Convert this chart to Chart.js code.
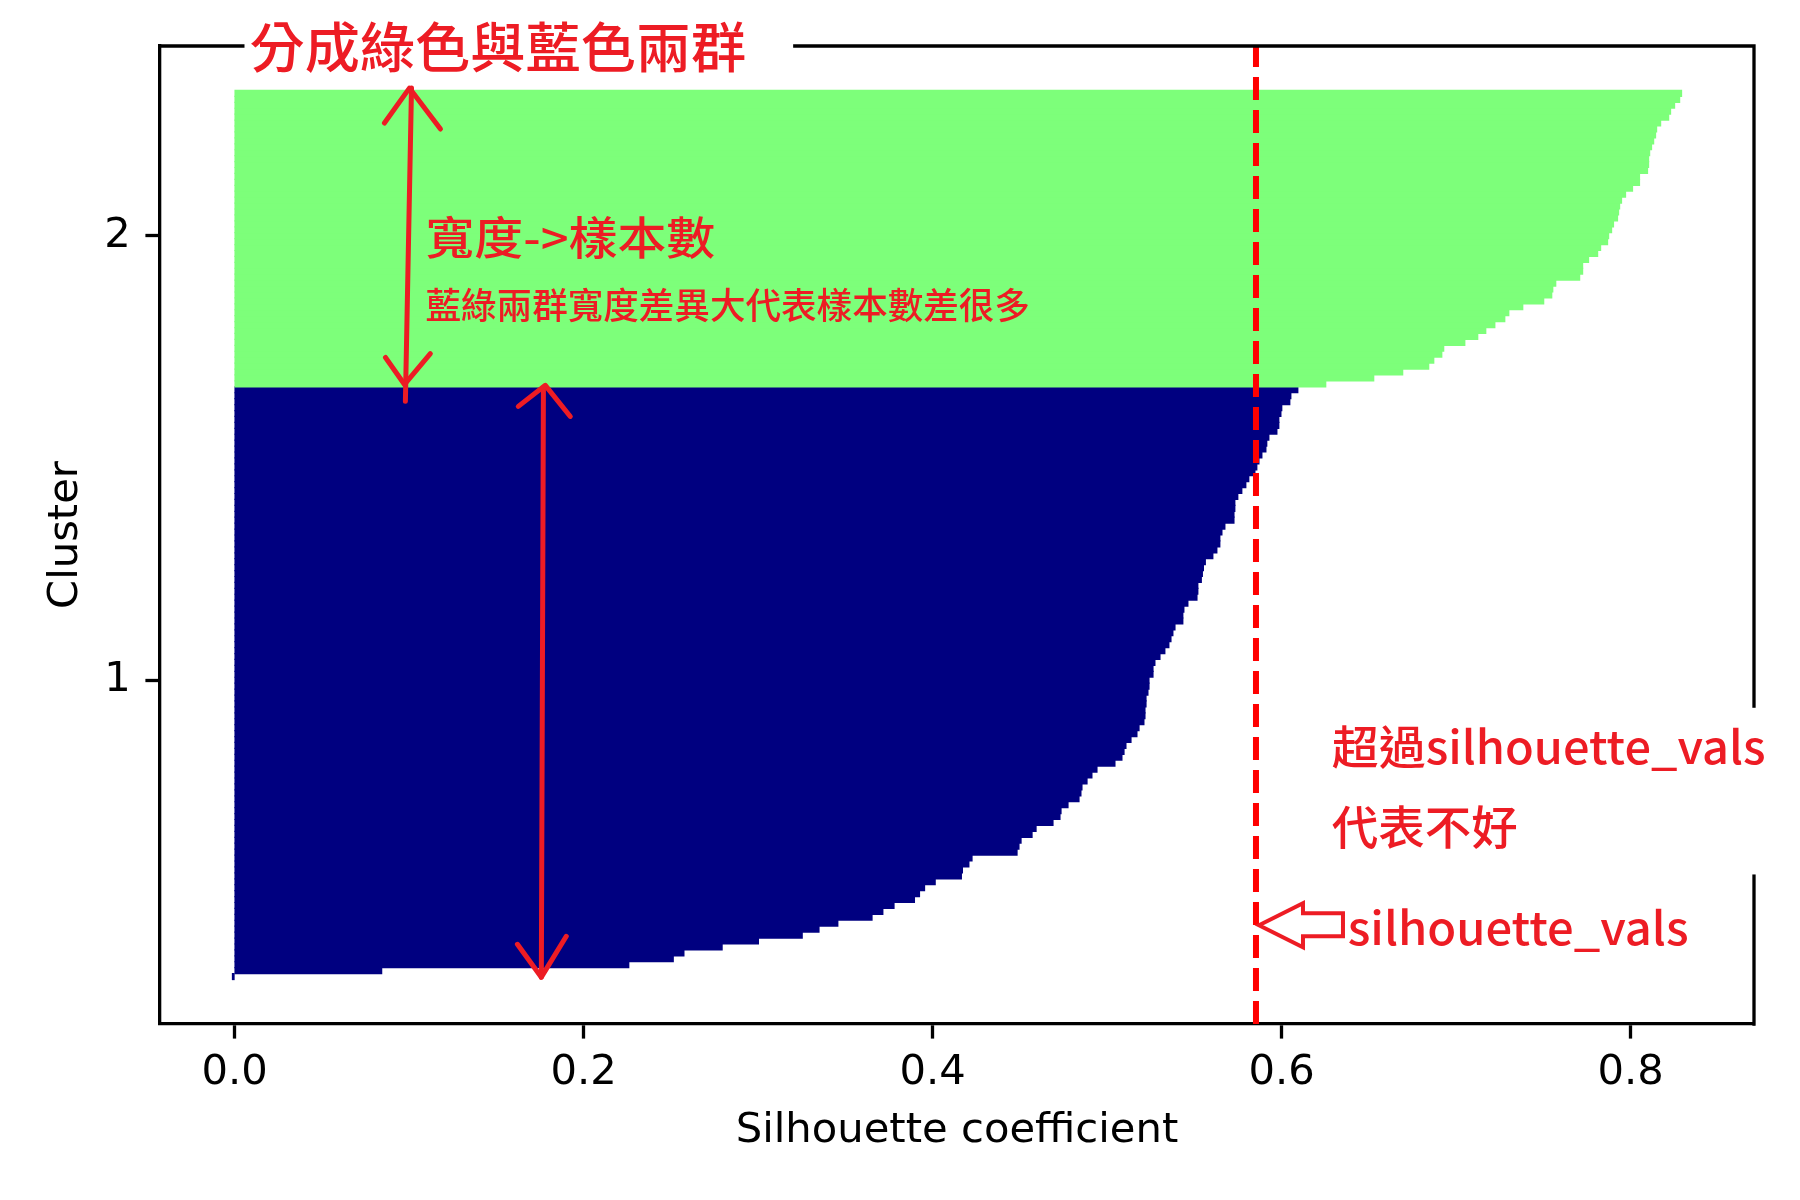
<!DOCTYPE html>
<html><head><meta charset="utf-8">
<script src="https://cdn.jsdelivr.net/npm/chart.js@4.4.0/dist/chart.umd.min.js"></script>
<style>html,body{margin:0;padding:0;background:#fff}canvas{display:block}</style>
</head><body>
<canvas id="c" width="1800" height="1200"></canvas>
<script>
// ---------------- data ----------------
const clusterLabels = ['1', '2'];
const cluster1Values = [
  -0.0012, 0.0843, 0.2259, 0.2514, 0.2575, 0.2794, 0.3002, 0.3253, 0.3349, 0.3457,
  0.3653, 0.3715, 0.3779, 0.3896, 0.3925, 0.3954, 0.4015, 0.4165, 0.4171, 0.4208,
  0.4226, 0.4484, 0.4495, 0.4507, 0.4570, 0.4593, 0.4690, 0.4730, 0.4736, 0.4776,
  0.4839, 0.4850, 0.4856, 0.4885, 0.4913, 0.4942, 0.5045, 0.5085, 0.5097, 0.5108,
  0.5137, 0.5171, 0.5183, 0.5211, 0.5217, 0.5217, 0.5223, 0.5223, 0.5234, 0.5240,
  0.5240, 0.5263, 0.5263, 0.5274, 0.5303, 0.5331, 0.5354, 0.5366, 0.5377, 0.5389,
  0.5434, 0.5434, 0.5440, 0.5463, 0.5515, 0.5520, 0.5520, 0.5540, 0.5546, 0.5552,
  0.5563, 0.5606, 0.5629, 0.5646, 0.5646, 0.5658, 0.5675, 0.5727, 0.5727, 0.5732,
  0.5732, 0.5749, 0.5772, 0.5795, 0.5812, 0.5847, 0.5858, 0.5870, 0.5887, 0.5910,
  0.5915, 0.5927, 0.5973, 0.5984, 0.5984, 0.5996, 0.6001, 0.6047, 0.6053, 0.6093
];
const cluster2Values = [
  0.6253, 0.6528, 0.6694, 0.6843, 0.6872, 0.6918, 0.6929, 0.7050, 0.7124, 0.7170,
  0.7222, 0.7279, 0.7302, 0.7382, 0.7502, 0.7548, 0.7554, 0.7571, 0.7708, 0.7725,
  0.7725, 0.7759, 0.7811, 0.7828, 0.7868, 0.7874, 0.7891, 0.7902, 0.7925, 0.7931,
  0.7937, 0.7948, 0.7971, 0.8011, 0.8051, 0.8051, 0.8097, 0.8103, 0.8103, 0.8109,
  0.8120, 0.8132, 0.8143, 0.8149, 0.8172, 0.8218, 0.8229, 0.8252, 0.8281, 0.8292
];
const xTickValues = [0.0, 0.2, 0.4, 0.6, 0.8];
const xAxisLabel = 'Silhouette coefficient';
const yAxisLabel = 'Cluster';
const clusterColors = ['#000080', '#7DFF7A'];

// hand-drawn annotations (positions in data coordinates)
const noteTexts = [
  { text: '分成綠色與藍色兩群', x0: 0.0086, x1: 0.2932, y: 156.8, size: 54, baseline: 'middle' },
  { text: '寬度->樣本數', x0: 0.1094, x1: 0.2754, y: 124.6, size: 45, baseline: 'middle' },
  { text: '藍綠兩群寬度差異大代表樣本數差很多', x0: 0.1094, x1: 0.4558, y: 113.2, size: 36, baseline: 'middle' },
  { text: '超過silhouette_vals', x0: 0.6288, x1: 0.8773, y: 35.8, size: 46, baseline: 'alphabetic' },
  { text: '代表不好', x0: 0.6288, x1: 0.7353, y: 25.3, size: 46, baseline: 'middle' },
  { text: 'silhouette_vals', x0: 0.6379, x1: 0.8332, y: 5.3, size: 46, baseline: 'alphabetic' }
];
const whiteBoxes = [
  { x0: 0.0057, x1: 0.3201, y0: 161.9, y1: 151.3 },
  { x0: 0.6160, x1: 0.9000, y0: 45.35, y1: 17.23 }
];
const arrowStrokes = [
  [[0.1014, 149.9], [0.0979, 97.05]],
  [[0.0859, 144.0], [0.1002, 149.9], [0.1180, 143.0]],
  [[0.0865, 104.45], [0.0974, 99.9], [0.1122, 105.1]],
  [[0.1770, 99.4], [0.1758, -0.11]],
  [[0.1626, 96.2], [0.1781, 99.75], [0.1924, 94.5]],
  [[0.1621, 5.45], [0.1758, -0.1], [0.1901, 6.8]]
];
const hollowArrowTipY = 8.65;

// ---------------- build ----------------
const clusters = [cluster1Values, cluster2Values];
const points = [], barColors = [], yTickPositions = [];
let lower = 0;
clusters.forEach((vals, k) => {
  const sorted = vals.slice().sort((a, b) => a - b);
  sorted.forEach((v, i) => { points.push({ x: v, y: lower + i }); barColors.push(clusterColors[k]); });
  yTickPositions.push((lower + lower + sorted.length) / 2);
  lower += sorted.length;
});
const allVals = points.map(p => p.x);
const meanValue = allVals.reduce((a, b) => a + b, 0) / allVals.length;
const dataXMin = Math.min(0, ...allVals), dataXMax = Math.max(0, ...allVals);
const xPad = 0.05 * (dataXMax - dataXMin);
const dataYMin = -0.5, dataYMax = lower - 0.5;
const yPad = 0.05 * (dataYMax - dataYMin);

const RED = '#ED1C24';
const CJK = '"Noto Sans CJK TC","Noto Sans CJK SC",sans-serif';

function drawFitted(ctx, text, x, y, targetW, size, baseline) {
  ctx.font = '500 ' + size + 'px ' + CJK;
  const w = ctx.measureText(text).width;
  const s = targetW / w;
  ctx.save();
  ctx.translate(x, y);
  ctx.scale(s, 1);
  ctx.textAlign = 'left';
  ctx.textBaseline = baseline;
  ctx.fillStyle = RED;
  ctx.fillText(text, 0, 0);
  ctx.restore();
}

const annotPlugin = {
  id: 'annot',
  afterDatasetsDraw(chart) {
    const { ctx, chartArea: a, scales: { x } } = chart;
    const px = x.getPixelForValue(meanValue);
    ctx.save();
    ctx.strokeStyle = '#FF0000';
    ctx.lineWidth = 6;
    ctx.setLineDash([23, 10]);
    ctx.beginPath();
    ctx.moveTo(px, a.bottom);
    ctx.lineTo(px, a.top);
    ctx.stroke();
    ctx.restore();
  },
  afterDraw(chart) {
    const { ctx, chartArea: a, scales: { x, y } } = chart;
    const X = v => x.getPixelForValue(v), Y = v => y.getPixelForValue(v);
    ctx.save();
    // top and right spines
    ctx.strokeStyle = '#000';
    ctx.lineWidth = 3.3;
    ctx.beginPath();
    ctx.moveTo(a.left - 1.65, a.top);
    ctx.lineTo(a.right, a.top);
    ctx.lineTo(a.right, a.bottom + 1.65);
    ctx.stroke();
    // white boxes behind notes
    ctx.fillStyle = '#fff';
    whiteBoxes.forEach(b => {
      ctx.fillRect(X(b.x0), Y(b.y0), X(b.x1) - X(b.x0), Y(b.y1) - Y(b.y0));
    });
    // texts
    noteTexts.forEach(t => drawFitted(ctx, t.text, X(t.x0), Y(t.y), X(t.x1) - X(t.x0), t.size, t.baseline));
    // double-headed arrows
    ctx.strokeStyle = RED;
    ctx.lineWidth = 5;
    ctx.lineCap = 'round';
    ctx.lineJoin = 'round';
    arrowStrokes.forEach(pl => {
      ctx.beginPath();
      pl.forEach((p, i) => { if (i === 0) ctx.moveTo(X(p[0]), Y(p[1])); else ctx.lineTo(X(p[0]), Y(p[1])); });
      ctx.stroke();
    });
    // hollow arrow pointing at mean line
    const tx = X(meanValue) + 3, ty = Y(hollowArrowTipY);
    const shape = [[0, 0], [44, -22], [44, -12], [84, -12], [84, 11], [44, 11], [44, 22]];
    ctx.lineWidth = 4;
    ctx.lineJoin = 'miter';
    ctx.beginPath();
    shape.forEach((p, i) => { if (i === 0) ctx.moveTo(tx + p[0], ty + p[1]); else ctx.lineTo(tx + p[0], ty + p[1]); });
    ctx.closePath();
    ctx.stroke();
    ctx.restore();
  }
};

const tickFont = { family: 'DejaVu Sans', size: 41.7, lineHeight: 1.2 };

new Chart(document.getElementById('c').getContext('2d'), {
  type: 'bar',
  data: {
    datasets: [{
      data: points,
      backgroundColor: barColors,
      borderWidth: 0,
      inflateAmount: 0.6,
      barPercentage: 1,
      categoryPercentage: 1
    }]
  },
  options: {
    indexAxis: 'y',
    responsive: false,
    animation: false,
    devicePixelRatio: 1,
    layout: { padding: { top: 46, right: 46, left: 0, bottom: 0 } },
    plugins: { legend: { display: false }, tooltip: { enabled: false } },
    scales: {
      x: {
        type: 'linear',
        position: 'bottom',
        offset: false,
        min: dataXMin - xPad,
        max: dataXMax + xPad,
        afterBuildTicks: s => { s.ticks = xTickValues.map(v => ({ value: v })); },
        afterFit: s => { s.height = 176; },
        ticks: { callback: v => Number(v).toFixed(1), font: tickFont, color: '#000', padding: 10, maxRotation: 0, autoSkip: false },
        grid: { offset: false, drawOnChartArea: false, drawTicks: true, tickLength: 14.6, tickWidth: 3.3, tickColor: '#000' },
        border: { display: true, color: '#000', width: 3.3 },
        title: { display: true, text: xAxisLabel, font: tickFont, color: '#000', padding: { top: 0, bottom: 44 } }
      },
      y: {
        type: 'linear',
        position: 'left',
        offset: false,
        min: dataYMin - yPad,
        max: dataYMax + yPad,
        afterBuildTicks: s => { s.ticks = yTickPositions.map(v => ({ value: v })); },
        afterFit: s => { s.width = 160; },
        ticks: { callback: (v, i) => clusterLabels[i], font: tickFont, color: '#000', padding: 14.6, autoSkip: false },
        grid: { offset: false, drawOnChartArea: false, drawTicks: true, tickLength: 14.6, tickWidth: 3.3, tickColor: '#000' },
        border: { display: true, color: '#000', width: 3.3 },
        title: { display: true, text: yAxisLabel, font: tickFont, color: '#000', padding: { top: 41, bottom: 0 } }
      }
    }
  },
  plugins: [annotPlugin]
});
</script>
</body></html>
